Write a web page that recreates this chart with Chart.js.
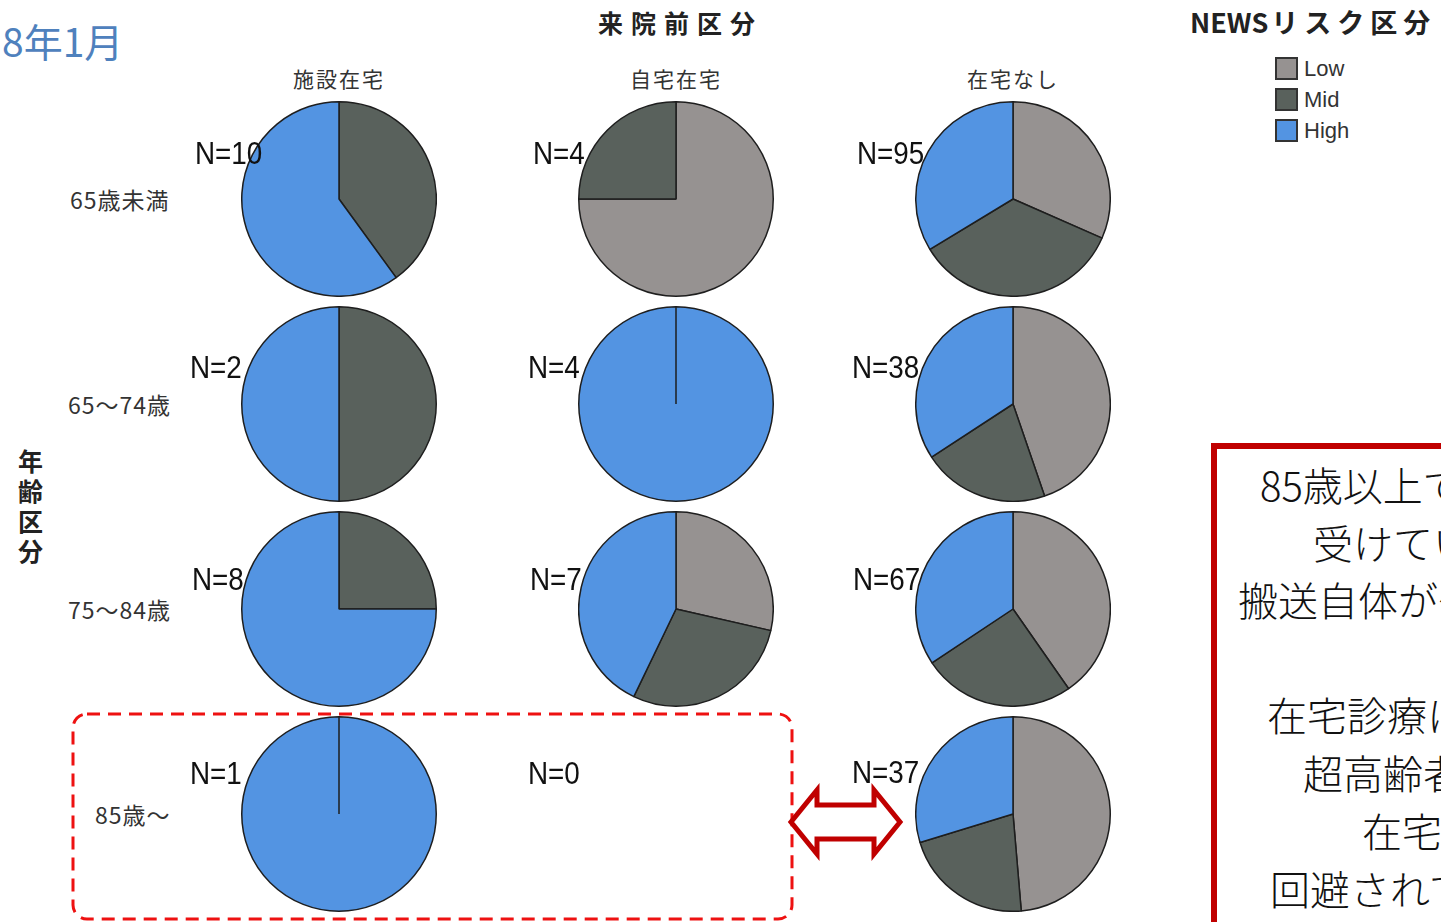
<!DOCTYPE html>
<html lang="ja">
<head>
<meta charset="utf-8">
<script src="https://cdn.jsdelivr.net/npm/chart.js@4/dist/chart.umd.min.js"></script>
<style>
  html, body { margin: 0; padding: 0; background: #fff; }
  body { width: 1441px; height: 922px; position: relative; overflow: hidden;
         font-family: "Noto Sans CJK JP", "Noto Sans", sans-serif; color: #222; }
  .abs { position: absolute; white-space: nowrap; }
  .period { left: 2px; top: 21px; font-size: 39px; color: #4f81bd; line-height: 1; }
  .head { font-weight: bold; font-size: 25px; line-height: 1; }
  .col { font-size: 21px; color: #333; line-height: 1; transform: translateX(-50%); letter-spacing: 2px; }
  .row { font-size: 23px; color: #333; line-height: 1; letter-spacing: 1px; }
  .axis { left: 18px; top: 445px; font-weight: bold; font-size: 25px; line-height: 30px; }
  .n { font-family: "Liberation Sans", Arial, sans-serif; font-size: 32px; line-height: 1; color: #111;
       transform: scaleX(0.87); transform-origin: 0 0; z-index: 2; }
  .pie { position: absolute; width: 196px; height: 196px; z-index: 1; }
  .legend { left: 1275px; top: 53px; font-family: "Liberation Sans", Arial, sans-serif; font-size: 22px; color: #333; }
  .legend div { height: 31px; display: flex; align-items: center; }
  .legend span { display: inline-block; width: 19px; height: 19px; border: 2px solid #333; margin-right: 6px; }
  .note { position: absolute; left: 1211px; top: 443px; width: 600px; height: 600px;
          border: 6px solid #c00000; box-sizing: border-box; }
  .note-line { position: absolute; font-size: 40px; line-height: 1; color: #111; white-space: nowrap; font-weight: 300; }
</style>
</head>
<body>
<div class="abs period">8年1月</div>
<div class="abs head" style="left:598px; top:10px; letter-spacing:8px;">来院前区分</div>
<div class="abs head" style="left:1190px; top:8px; font-size:27px;">NEWS<span style="letter-spacing:6px; margin-left:3px;">リスク区分</span></div>
<div class="abs axis">年<br>齢<br>区<br>分</div>

<div class="abs legend" id="legend"></div>

<svg class="abs" style="left:0; top:0; z-index:3;" width="1441" height="922">
  <rect x="73" y="714" width="719" height="205" rx="14" ry="14"
        fill="none" stroke="#ee1111" stroke-width="3" stroke-dasharray="13 8"/>
  <polygon points="791,822 817,790 817,805 874,805 874,790 900,822 874,854 874,839 817,839 817,854"
           fill="#fff" stroke="#c00000" stroke-width="5" stroke-linejoin="miter"/>
</svg>

<div class="note"></div>
<div class="note-line" style="left:1260px; top:464px;">85歳以上で在宅診療を</div>
<div class="note-line" style="left:1313px; top:522px;">受けている患者は</div>
<div class="note-line" style="left:1238px; top:579px;">搬送自体が少ない</div>
<div class="note-line" style="left:1267px; top:694px;">在宅診療により</div>
<div class="note-line" style="left:1303px; top:752px;">超高齢者の救急搬送が</div>
<div class="note-line" style="left:1362px; top:810px;">在宅で</div>
<div class="note-line" style="left:1270px; top:868px;">回避されている可能性</div>

<div id="grid"></div>

<script>
// 来院前区分 x 年齢区分, counts per NEWS risk level
const riskLevels = ['Low', 'Mid', 'High'];
const riskColors = ['#969291', '#59615c', '#5394e2'];
const placeGroups = ['施設在宅', '自宅在宅', '在宅なし'];
const ageGroups = ['65歳未満', '65〜74歳', '75〜84歳', '85歳〜'];

// rows = age groups, columns = place groups
const lowCounts  = [[0, 3, 30], [0, 0, 17], [0, 2, 27], [0, 0, 18]];
const midCounts  = [[4, 1, 33], [1, 0, 8],  [2, 2, 17], [0, 0, 8]];
const highCounts = [[6, 0, 32], [1, 4, 13], [6, 3, 23], [1, 0, 11]];

// layout
const colX = [339, 676, 1013];
const rowY = [199, 404, 609, 814];
const rowLabelX = [70, 68, 68, 95];
const nLabelPos = [
  [[195, 137], [533, 137], [857, 137]],
  [[190, 351], [528, 351], [852, 351]],
  [[192, 563], [530, 563], [853, 563]],
  [[190, 757], [528, 757], [852, 756]]
];

const grid = document.getElementById('grid');

function addText(cls, text, left, top) {
  const el = document.createElement('div');
  el.className = 'abs ' + cls;
  el.textContent = text;
  el.style.left = left + 'px';
  el.style.top = top + 'px';
  grid.appendChild(el);
  return el;
}

placeGroups.forEach((name, c) => addText('col', name, colX[c], 68));
ageGroups.forEach((name, r) => addText('row', name, rowLabelX[r], rowY[r] - 11));

const legend = document.getElementById('legend');
riskLevels.forEach((lv, i) => {
  const item = document.createElement('div');
  item.innerHTML = `<span style="background:${riskColors[i]}"></span>${lv}`;
  legend.appendChild(item);
});

ageGroups.forEach((age, r) => {
  placeGroups.forEach((place, c) => {
    const values = [lowCounts[r][c], midCounts[r][c], highCounts[r][c]];
    const total = values.reduce((a, b) => a + b, 0);
    const [lx, ly] = nLabelPos[r][c];
    addText('n', 'N=' + total, lx, ly);

    const box = document.createElement('div');
    box.className = 'pie';
    box.style.left = (colX[c] - 98) + 'px';
    box.style.top = (rowY[r] - 98) + 'px';
    const canvas = document.createElement('canvas');
    box.appendChild(canvas);
    grid.appendChild(box);

    new Chart(canvas, {
      type: 'pie',
      data: {
        labels: riskLevels,
        datasets: [{
          data: values,
          backgroundColor: riskColors,
          borderColor: '#1e1e1e',
          borderWidth: 1.5
        }]
      },
      options: {
        responsive: true,
        maintainAspectRatio: false,
        animation: false,
        layout: { padding: 0 },
        plugins: {
          legend: { display: false },
          tooltip: { enabled: false }
        }
      }
    });
  });
});
</script>
</body>
</html>
